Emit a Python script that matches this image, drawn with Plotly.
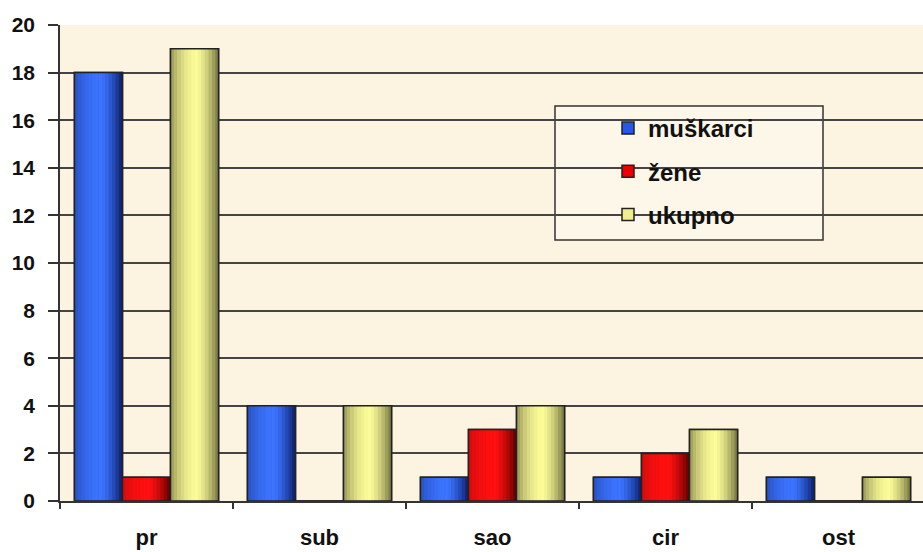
import math
import plotly.graph_objects as go

categories = ["pr", "sub", "sao", "cir", "ost"]
muskarci = [18, 4, 1, 1, 1]
zene = [1, 0, 3, 2, 0]
ukupno = [19, 4, 4, 3, 1]
series_names = ["muškarci", "žene", "ukupno"]
y_ticks = [0, 2, 4, 6, 8, 10, 12, 14, 16, 18, 20]

values = [muskarci, zene, ukupno]
# style: (legend colour, dark rgb, light rgb, left brightness, right brightness)
styles = [
    ("#2456F0", (12, 28, 100), (60, 116, 255), 0.62, 0.0),
    ("#EE0000", (90, 0, 0), (255, 16, 16), 0.75, 0.0),
    ("#EEEE8C", (90, 90, 48), (251, 251, 152), 0.40, 0.15),
]

W, H = 923, 552
OFF = 0
L, R, T, B = 60, 0, 25, 51
pw, ph = W - L - R, H - T - B

def px_x(sx):
    return (sx - OFF - L) / pw

def px_y(sy):
    return (H - B - (sy - OFF)) / ph

bargap = 0.167
group_w = 1 - bargap
bw = group_w / len(series_names)
N = 14

def profile(t, left, right):
    p = 0.55
    if t < p:
        return left + (1 - left) * math.sin(math.pi / 2 * t / p)
    return 1 - (1 - right) * ((t - p) / (1 - p)) ** 1.4

fig = go.Figure()
for i, (name, vals, st) in enumerate(zip(series_names, values, styles)):
    legend_col, dark, light, lft, rgt = st
    off0 = -group_w / 2 + i * bw
    fig.add_trace(go.Bar(
        x=categories, y=vals, name=name, legendgroup=name, showlegend=True,
        offset=off0, width=bw,
        marker=dict(color=legend_col, line=dict(color="#222222", width=1.5)),
        hoverinfo="skip",
    ))
    for k in range(N):
        t = (k + 0.5) / N
        f = profile(t, lft, rgt)
        c = tuple(int(round(d + (l - d) * f)) for d, l in zip(dark, light))
        fig.add_trace(go.Bar(
            x=categories, y=vals, legendgroup=name, showlegend=False,
            offset=off0 + k * bw / N, width=bw / N * 1.05,
            marker=dict(color="rgb(%d,%d,%d)" % c, line=dict(width=0)),
            hoverinfo="skip",
        ))
    fig.add_trace(go.Bar(
        x=categories, y=vals, legendgroup=name, showlegend=False,
        offset=off0, width=bw,
        marker=dict(color="rgba(0,0,0,0)", line=dict(color="#222222", width=1.5)),
    ))

fig.add_shape(type="rect", xref="paper", yref="paper",
              x0=px_x(555), x1=px_x(823), y0=px_y(240), y1=px_y(106),
              line=dict(color="#333333", width=1.5), fillcolor="#FDF7EA", layer="below")

cat_w = 173
fig.update_layout(
    width=W, height=H,
    margin=dict(l=L, r=R, t=T, b=B),
    paper_bgcolor="white",
    plot_bgcolor="#FCF3E0",
    barmode="overlay",
    font=dict(family="Liberation Sans, Arial", color="#111111"),
    legend=dict(
        x=px_x(608), y=px_y(106), xanchor="left", yanchor="top",
        bgcolor="rgba(0,0,0,0)", borderwidth=0,
        font=dict(size=24, family="Liberation Sans, Arial", weight="bold", color="#111111"),
        tracegroupgap=9, traceorder="grouped",
    ),
    xaxis=dict(
        range=[-0.5, -0.5 + pw / cat_w],
        tickson="boundaries", ticks="outside", ticklen=6, tickcolor="#333333", tickwidth=1.5,
        showline=True, linecolor="#333333", linewidth=1.5,
        showgrid=False,
        tickfont=dict(size=22, family="Liberation Sans, Arial", weight="bold", color="#111111"),
        ticklabelstandoff=16,
    ),
    yaxis=dict(
        range=[0, 20], tickvals=y_ticks,
        ticks="outside", ticklen=10, tickcolor="#333333", tickwidth=1.5,
        showline=True, linecolor="#333333", linewidth=1.5,
        showgrid=True, gridcolor="#444444", gridwidth=1.8,
        zeroline=False,
        tickfont=dict(size=21, family="Liberation Sans, Arial", weight="bold", color="#111111"),
        ticklabelstandoff=9,
    ),
)

fig.write_html(
    "out.html",
    config={"displayModeBar": False},
    post_script="document.body.style.margin='0';document.body.style.overflow='hidden';",
)
